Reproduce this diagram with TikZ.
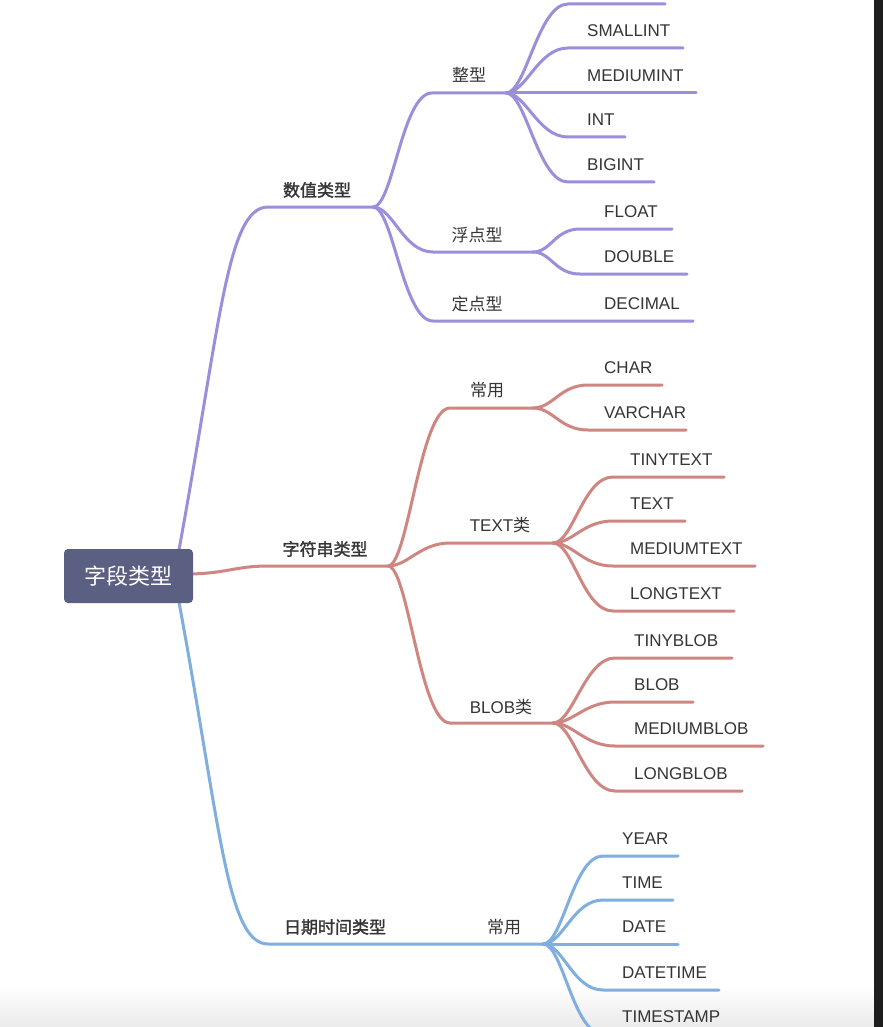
\documentclass[tikz,border=0pt]{standalone}
\usepackage{fontspec}
\setmainfont{Liberation Sans}
\newfontfamily\cjk{Noto Sans CJK SC}
\newfontfamily\cjkb[FakeBold=1.6]{Noto Sans CJK SC}
\definecolor{pur}{HTML}{9B8FDC}
\definecolor{rd}{HTML}{CF8580}
\definecolor{bl}{HTML}{7FAEDF}
\definecolor{rootfill}{HTML}{5B5F82}
\definecolor{txt}{HTML}{353535}
\definecolor{barc}{HTML}{1E1E1E}
\begin{document}
\begin{tikzpicture}[x=1pt,y=-1pt,
  branch/.style={line width=3pt,line cap=round},
  pline/.style={branch,draw=pur},
  rline/.style={branch,draw=rd},
  bline/.style={branch,draw=bl},
  leaf/.style={anchor=west,inner sep=0pt,text=txt,font=\fontsize{17}{17}\selectfont},
  sub/.style={inner sep=0pt,text=txt,font=\cjk\fontsize{17}{17}\selectfont},
  subl/.style={inner sep=0pt,text=txt,font=\fontsize{17}{17}\selectfont},
  cat/.style={inner sep=0pt,text=txt,font=\cjkb\fontsize{17}{17}\selectfont},
  rootbox/.style={fill=rootfill,rounded corners=4pt,text=white,minimum width=129pt,minimum height=54pt,inner sep=0pt,font=\cjk\fontsize{22}{22}\selectfont}
]
\useasboundingbox (0,0) rectangle (883,1027);
\fill[white] (0,0) rectangle (883,1027);
\shade[top color=white,bottom color=black!8] (0,985) rectangle (874,1027);
\fill[barc] (874,0) rectangle (883,1027);

% ---------- purple: 数值类型 ----------
\coordinate (p0) at (176,566);
\coordinate (pA) at (268,207);
\coordinate (pS) at (373,207);
\draw[pline] (p0) .. controls (220,330) and (226,207) .. (pA) -- (pS);
\node[cat] (numcat) at (317,190) {数值类型};

% 整型
\coordinate (z0) at (432,93);
\coordinate (zS) at (506,93);
\draw[pline] (pS) .. controls +(20,0) and +(-30,0) .. (z0) -- (zS);
\node[sub] (zx) at (469,75) {整型};
\foreach \n/\y/\e in {1/4/665, 2/48/683, 4/137/625, 5/182/654}{
  \coordinate (zl\n) at (568,\y);
  \coordinate (ze\n) at (\e,\y);
  \draw[pline] (zS) .. controls +(20,0) and +(-30,0) .. (zl\n) -- (ze\n);
}
\coordinate (ze3) at (696,93);
\draw[pline] (zS) -- (ze3);
\node[leaf] (zt2) at (587,31) {SMALLINT};
\node[leaf] (zt3) at (587,76) {MEDIUMINT};
\node[leaf] (zt4) at (587,120) {INT};
\node[leaf] (zt5) at (587,165) {BIGINT};

% 浮点型
\coordinate (f0) at (433,252);
\coordinate (fS) at (533,252);
\draw[pline] (pS) .. controls +(20,0) and +(-30,0) .. (f0) -- (fS);
\node[sub] (fx) at (477,235) {浮点型};
\coordinate (fl1) at (580,229); \coordinate (fe1) at (672,229);
\coordinate (fl2) at (580,274); \coordinate (fe2) at (687,274);
\draw[pline] (fS) .. controls +(18,0) and +(-25,0) .. (fl1) -- (fe1);
\draw[pline] (fS) .. controls +(18,0) and +(-25,0) .. (fl2) -- (fe2);
\node[leaf] (ft1) at (604,212) {FLOAT};
\node[leaf] (ft2) at (604,257) {DOUBLE};

% 定点型
\coordinate (d0) at (433,321);
\coordinate (de) at (693,321);
\draw[pline] (pS) .. controls +(20,0) and +(-30,0) .. (d0) -- (de);
\node[sub] (dx) at (477,304) {定点型};
\node[leaf] (dt) at (604,304) {DECIMAL};

% ---------- red: 字符串类型 ----------
\coordinate (r0) at (186,574);
\coordinate (rA) at (268,566);
\coordinate (rS) at (388,566);
\draw[rline] (r0) .. controls (225,574) and (235,566) .. (rA) -- (rS);
\node[cat] (strcat) at (325,549) {字符串类型};

% 常用
\coordinate (c0) at (450,408);
\coordinate (cS) at (533,408);
\draw[rline] (rS) .. controls +(20,0) and +(-30,0) .. (c0) -- (cS);
\node[sub] (cx) at (487,390) {常用};
\coordinate (cl1) at (588,385); \coordinate (ce1) at (662,385);
\coordinate (cl2) at (588,430); \coordinate (ce2) at (686,430);
\draw[rline] (cS) .. controls +(20,0) and +(-28,0) .. (cl1) -- (ce1);
\draw[rline] (cS) .. controls +(20,0) and +(-28,0) .. (cl2) -- (ce2);
\node[leaf] (ct1) at (604,368) {CHAR};
\node[leaf] (ct2) at (604,413) {VARCHAR};

% TEXT类
\coordinate (t0) at (450,543);
\coordinate (tS) at (553,543);
\draw[rline] (rS) .. controls +(20,0) and +(-30,0) .. (t0) -- (tS);
\node[subl] (tx) at (500,525) {TEXT{\cjk 类}};
\foreach \n/\y/\e/\t in {1/477/724/TINYTEXT, 2/521/685/TEXT, 3/566/755/MEDIUMTEXT, 4/611/734/LONGTEXT}{
  \coordinate (tl\n) at (613,\y);
  \coordinate (te\n) at (\e,\y);
  \draw[rline] (tS) .. controls +(20,0) and +(-30,0) .. (tl\n) -- (te\n);
  \node[leaf] (tt\n) at (630,\y-17) {\t};
}

% BLOB类
\coordinate (b0) at (450,723);
\coordinate (bS) at (553,723);
\draw[rline] (rS) .. controls +(20,0) and +(-30,0) .. (b0) -- (bS);
\node[subl] (bx) at (501,707) {BLOB{\cjk 类}};
\foreach \n/\y/\e/\t in {1/658/732/TINYBLOB, 2/702/693/BLOB, 3/746/763/MEDIUMBLOB, 4/791/742/LONGBLOB}{
  \coordinate (bl\n) at (615,\y);
  \coordinate (be\n) at (\e,\y);
  \draw[rline] (bS) .. controls +(20,0) and +(-30,0) .. (bl\n) -- (be\n);
  \node[leaf] (bt\n) at (634,\y-17) {\t};
}

% ---------- blue: 日期时间类型 ----------
\coordinate (u0) at (176,586);
\coordinate (uA) at (268,944);
\coordinate (uS) at (543,944);
\draw[bline] (u0) .. controls (220,820) and (226,944) .. (uA) -- (uS);
\node[cat] (datecat) at (335,927) {日期时间类型};
\node[sub] (ux) at (504,927) {常用};
\foreach \n/\y/\e in {1/856/678, 2/900/673, 4/990/719, 5/1034/720}{
  \coordinate (ul\n) at (603,\y);
  \coordinate (ue\n) at (\e,\y);
  \draw[bline] (uS) .. controls +(20,0) and +(-30,0) .. (ul\n) -- (ue\n);
}
\coordinate (ue3) at (678,944);
\draw[bline] (uS) -- (ue3);
\node[leaf] (ut1) at (622,839) {YEAR};
\node[leaf] (ut2) at (622,883) {TIME};
\node[leaf] (ut3) at (622,927) {DATE};
\node[leaf] (ut4) at (622,973) {DATETIME};
\node[leaf] (ut5) at (622,1017) {TIMESTAMP};

% ---------- root ----------
\node[rootbox] (root) at (128.5,576) {字段类型};
\end{tikzpicture}
\end{document}
